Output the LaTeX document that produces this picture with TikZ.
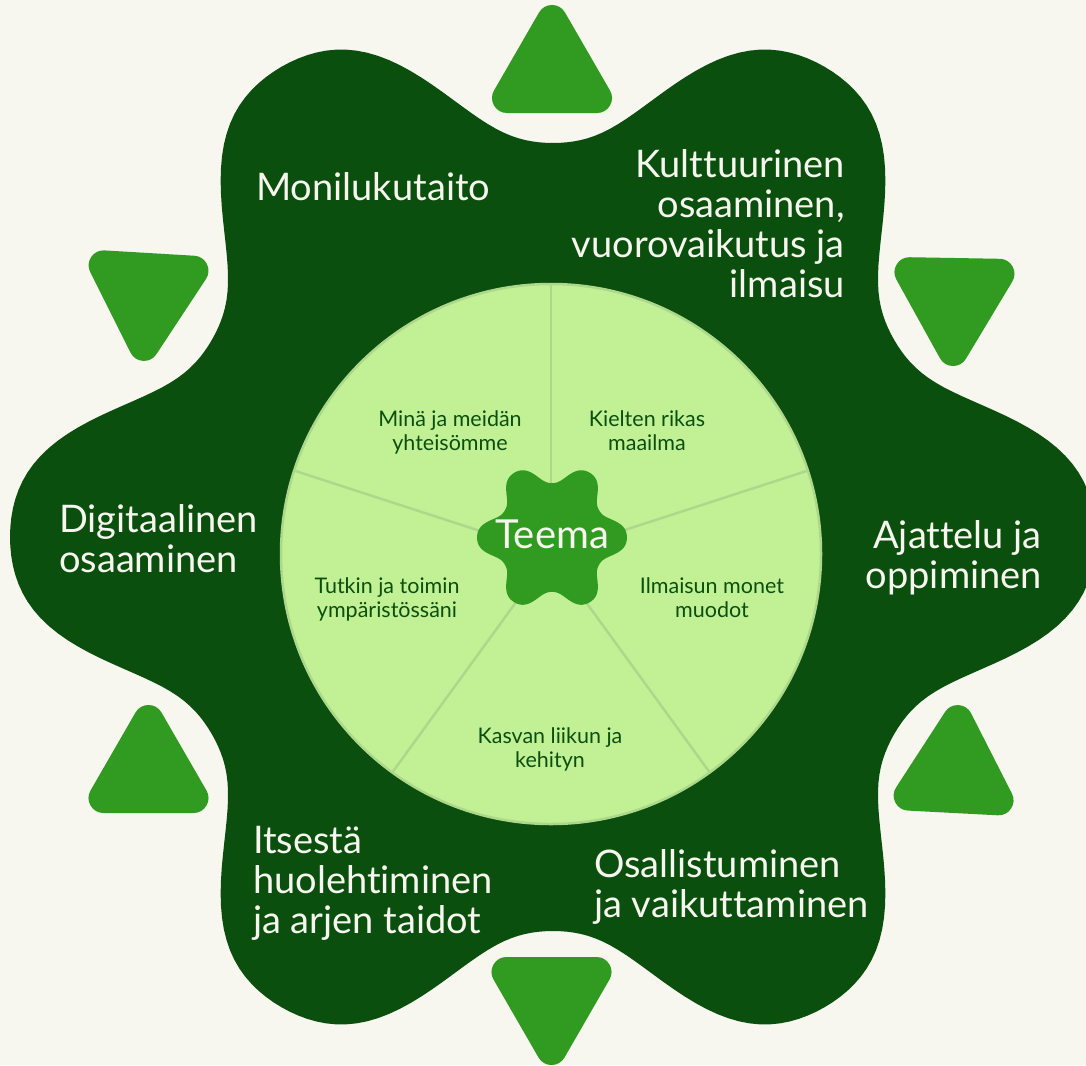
\documentclass[tikz,border=0pt]{standalone}
\usepackage{fontspec}
\setmainfont{Lato}[Ligatures=NoCommon]
\definecolor{bgc}{HTML}{F7F6EF}
\definecolor{darkg}{HTML}{0A4F0E}
\definecolor{midg}{HTML}{319B21}
\definecolor{lightg}{HTML}{C2F195}
\definecolor{lineg}{HTML}{ADD88B}
\definecolor{creamtxt}{HTML}{F7F6EE}
\begin{document}
\begin{tikzpicture}[x=1pt,y=-1pt,
  outer/.style={text=creamtxt, font=\fontsize{38}{40}\selectfont, inner sep=0pt},
  inlabel/.style={text=darkg, font=\fontsize{21.5}{24}\selectfont, inner sep=0pt, align=center, anchor=base},
  tri/.style={fill=midg, draw=midg, line width=30pt, line join=round},
  divider/.style={draw=lineg, line width=2.5pt}]
\useasboundingbox (0,0) rectangle (1086,1065);
\fill[bgc] (0,0) rectangle (1086,1065);
% big flower blob
\fill[darkg] plot[domain=0:360, samples=361, variable=\t]
  ({553+(468.5+78.7*cos(6*\t)-4.2*cos(18*\t))*cos(\t)},
   {537-(468.5+78.7*cos(6*\t)-4.2*cos(18*\t))*sin(\t)}) -- cycle;
% triangles
\filldraw[tri] (507,98) -- (597,98) -- (552,20) -- cycle;
\filldraw[tri] (506.5,972) -- (596.5,972) -- (551.5,1050) -- cycle;
\filldraw[tri] (103.5,798) -- (193.5,798) -- (148.5,720) -- cycle;
\begin{scope}[rotate around={-3:(955,771)}]
\filldraw[tri] (910,798) -- (1000,798) -- (955,720) -- cycle;
\end{scope}
\begin{scope}[rotate around={-3.4:(147,294)}]
\filldraw[tri] (102,268) -- (192,268) -- (147,346) -- cycle;
\end{scope}
\begin{scope}[rotate around={-1:(954,299)}]
\filldraw[tri] (909,273) -- (999,273) -- (954,351) -- cycle;
\end{scope}
% inner circle
\coordinate (cc) at (551,554);
\draw[fill=lightg, draw=lineg, line width=2.5pt] (cc) circle[radius=270pt];
\path (cc) +(-90:269) coordinate (d1)
           +(-18:269) coordinate (d2)
           +(54:269) coordinate (d3)
           +(126:269) coordinate (d4)
           +(-162:269) coordinate (d5);
\foreach \d in {d1,d2,d3,d4,d5} \draw[divider] (cc) -- (\d);
% central blob
\fill[midg] plot[domain=0:360, samples=361, variable=\t]
  ({552+0.138*(468.5+78.7*cos(6*\t)-4.2*cos(18*\t))*cos(\t)},
   {537.5-0.138*(468.5+78.7*cos(6*\t)-4.2*cos(18*\t))*sin(\t)}) -- cycle;
\node[text=creamtxt, font=\fontsize{40}{42}\selectfont, inner sep=0pt, anchor=base] (teema) at (552,548) {Teema};
% outer labels (base anchor = last line baseline)
\node[outer, anchor=base west, align=left] (monilukutaito) at (256,200) {Monilukutaito};
\node[outer, anchor=base east, align=right] (kulttuuri) at (845,297) {Kulttuurinen\\osaaminen,\\vuorovaikutus ja\\ilmaisu};
\node[outer, anchor=base west, align=left] (digi) at (59,572) {Digitaalinen\\osaaminen};
\node[outer, anchor=base east, align=right] (ajattelu) at (1042,588) {Ajattelu ja\\oppiminen};
\node[outer, anchor=base west, align=left] (itsesta) at (253,933) {Itsestä\\huolehtiminen\\ja arjen taidot};
\node[outer, anchor=base west, align=left] (osallistuminen) at (594,917) {Osallistuminen\\ja vaikuttaminen};
% inner labels
\node[inlabel] (mina) at (450,450) {Minä ja meidän\\yhteisömme};
\node[inlabel] (kielten) at (647,450) {Kielten rikas\\maailma};
\node[inlabel] (tutkin) at (387,617) {Tutkin ja toimin\\ympäristössäni};
\node[inlabel] (ilmaisun) at (712,617) {Ilmaisun monet\\muodot};
\node[inlabel] (kasvan) at (550,767) {Kasvan liikun ja\\kehityn};
\end{tikzpicture}
\end{document}
